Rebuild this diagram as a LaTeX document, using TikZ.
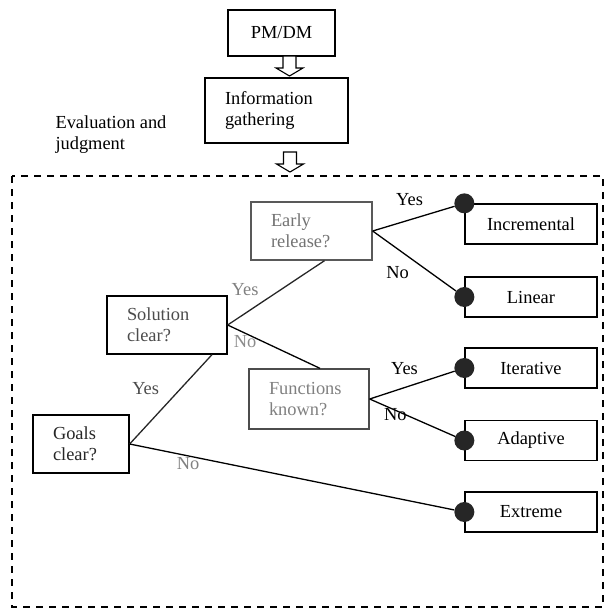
\documentclass[tikz,border=0pt]{standalone}
\usepackage{fontspec}
\setmainfont{Liberation Serif}
\usetikzlibrary{positioning}

\newcommand{\blockarrow}[2]{\draw[hollow] (#1-6.5,#2) -- ++(0,12) -- ++(-7,0) -- ++(13.5,8) -- ++(13.5,-8) -- ++(-7,0) -- ++(0,-12) -- cycle;}

\begin{document}
\begin{tikzpicture}[x=1pt,y=-1pt,
  every node/.style={font=\fontsize{18.4}{21}\selectfont},
  qbox/.style={draw, line width=1.3pt, align=left, inner xsep=20pt, inner ysep=0pt},
  rbox/.style={draw, line width=1.3pt, minimum width=132pt, minimum height=40pt},
  bullet/.style={circle, fill=black!85, inner sep=0pt, minimum size=20pt},
  lbl/.style={inner sep=1pt},
  conn/.style={line width=1.3pt},
  hollow/.style={draw, fill=white, line width=1.1pt}]
\useasboundingbox (0,0) rectangle (606,611);

\node [draw, line width=1.3pt, minimum width=107pt, minimum height=46pt] (pmdm) at (281.5,33) {PM/DM};
\node [qbox, text width=103pt, minimum height=65pt] (info) at (276.5,110.5) {Information\\gathering};
\node [anchor=west, align=left] (evaltxt) at (52,135) {Evaluation and\\judgment};
\blockarrow{289.5}{56}
\blockarrow{290}{152}

\draw [dash pattern=on 7pt off 6pt, line width=1.3pt] (12,176) rectangle (603,607);

	\node [qbox, text width=81pt, minimum height=58pt, draw=black!65, text=black!55] (early) at (311.5,231) {Early\\release?};
	\node [qbox, text width=80pt, minimum height=58pt, text=black!70] (solution) at (167,325) {Solution\\clear?};
	\node [qbox, text width=56pt, minimum height=58pt, text=black!85] (goals) at (81,444) {Goals\\clear?};
	\node [qbox, text width=80pt, minimum height=60pt, draw=black!70, text=black!50] (functions) at (309,399) {Functions\\known?};

	\node [rbox] (incremental) at (531,224) {Incremental};
	\node [rbox] (linear) at (531,297) {Linear};
	\node [rbox] (iterative) at (531,368) {Iterative};
	\node [rbox] (adaptive) at (531,440.5) {Adaptive};
	\node [rbox] (extreme) at (531,512) {Extreme};

	\node [bullet] (dinc) at (incremental.north west) {};
	\node [bullet] (dlin) at (linear.west) {};
	\node [bullet] (dite) at (iterative.west) {};
	\node [bullet] (dada) at (adaptive.west) {};
	\node [bullet] (dext) at (extreme.west) {};

\draw [conn] (early.east) -- node [lbl, pos=.45, above=13pt] {Yes} (dinc);
\draw [conn] (early.east) -- node [lbl, pos=.3, below=16pt] {No} (dlin);
\draw [conn, black!85] (solution.east) -- node [lbl, pos=.18, above=16pt, text=black!50] {Yes} ([xshift=13pt]early.south);
\draw [conn] (solution.east) -- node [lbl, pos=.19, below=1pt, text=black!45] {No} ([xshift=11pt]functions.north);
\draw [conn, black!85] (goals.east) -- node [lbl, pos=.62, left=20pt, text=black!70] {Yes} ([xshift=45pt]solution.south);
\draw [conn] (goals.east) -- node [lbl, pos=.18, below=0pt, text=black!50] {No} (dext);
\draw [conn] (functions.east) -- node [lbl, pos=.41, above=11pt] {Yes} (dite);
\draw [conn] (functions.east) -- node [lbl, pos=.3, yshift=-4pt] {No} (dada);
\end{tikzpicture}
\end{document}
